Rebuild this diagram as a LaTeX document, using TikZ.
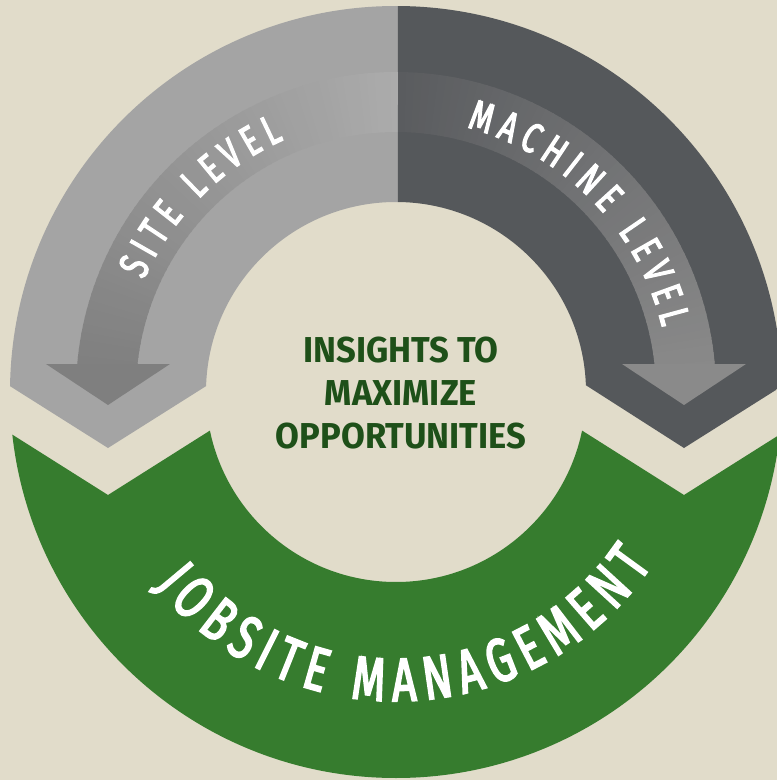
\documentclass[tikz,border=0pt]{standalone}
\usepackage{fontspec}
\setmainfont{Fira Sans}
\newfontfamily\arcfont[FakeStretch=0.7,FakeBold=3]{Fira Sans}
\newfontfamily\midfont[FakeStretch=0.96]{Fira Sans}
\usetikzlibrary{decorations.text}
\definecolor{bg}{HTML}{E1DCCA}
\definecolor{lgray}{HTML}{A4A4A4}
\definecolor{dgray}{HTML}{55585B}
\definecolor{jgreen}{HTML}{367C2E}
\definecolor{tgreen}{HTML}{1E5019}
\definecolor{lshaftA}{HTML}{ABABAB}
\definecolor{lshaftB}{HTML}{7F7F7F}
\definecolor{rshaftA}{HTML}{5A5C5F}
\definecolor{rshaftB}{HTML}{8A8A8A}
\tikzset{
  midtext/.style={anchor=base, text=tgreen, font=\midfont\bfseries\fontsize{36pt}{36pt}\selectfont, inner sep=0pt},
}
\begin{document}
\begin{tikzpicture}
\useasboundingbox (-396pt,-388pt) rectangle (381pt,392pt);
\fill[bg] (-396pt,-388pt) rectangle (381pt,392pt);
% light gray band (top left)
\begin{scope}
  \clip (2pt,400pt) -- (-410pt,400pt) -- (-410pt,21pt) -- (-288pt,-56pt) -- (2pt,127pt) -- cycle;
  \fill[lgray,even odd rule] (0,0) circle[radius=386pt] (0,0) circle[radius=190pt];
\end{scope}
% dark gray band (top right)
\begin{scope}
  \clip (2pt,400pt) -- (410pt,400pt) -- (410pt,21pt) -- (288pt,-56pt) -- (2pt,127pt) -- cycle;
  \fill[dgray,even odd rule] (0,0) circle[radius=386pt] (0,0) circle[radius=190pt];
\end{scope}
% green band (bottom)
\begin{scope}
  \clip (-410pt,-420pt) -- (-410pt,-26pt) -- (-288pt,-103pt) -- (0pt,79pt) -- (288pt,-103pt) -- (410pt,-26pt) -- (410pt,-420pt) -- cycle;
  \fill[jgreen,even odd rule] (0,0) circle[radius=386pt] (0,0) circle[radius=190pt];
\end{scope}
% left inner arrow shaft (gradient)
\foreach \i in {0,...,59}{
  \pgfmathsetmacro\aA{89.6+\i*86.8/60}
  \pgfmathsetmacro\aB{\aA+86.8/60+0.4}
  \pgfmathsetmacro\t{100*\i/59}
  \fill[lshaftB!\t!lshaftA] (\aA:260pt) arc[start angle=\aA,end angle=\aB,radius=260pt]
     -- (\aB:320pt) arc[start angle=\aB,end angle=\aA,radius=320pt] -- cycle;
}
\fill[lshaftB] (-350pt,28pt) -- (-288pt,-13pt) -- (-226pt,28pt) -- cycle;
% right inner arrow shaft (gradient)
\foreach \i in {0,...,59}{
  \pgfmathsetmacro\aA{89.6-\i*86.8/60}
  \pgfmathsetmacro\aB{\aA-86.8/60-0.4}
  \pgfmathsetmacro\t{100*\i/59}
  \fill[rshaftB!\t!rshaftA] (\aA:260pt) arc[start angle=\aA,end angle=\aB,radius=260pt]
     -- (\aB:320pt) arc[start angle=\aB,end angle=\aA,radius=320pt] -- cycle;
}
\fill[rshaftB] (350pt,28pt) -- (288pt,-13pt) -- (226pt,28pt) -- cycle;
% curved labels
\path[decorate, decoration={text along path, text align=fit to path,
  text={|\arcfont\fontsize{42pt}{42pt}\selectfont\color{white}|SITE LEVEL}}]
  (156:276pt) arc[start angle=156, end angle=114, radius=276pt];
\path[decorate, decoration={text along path, text align=fit to path,
  text={|\arcfont\fontsize{42pt}{42pt}\selectfont\color{white}|MACHINE LEVEL}}]
  (75:274pt) arc[start angle=75, end angle=13.7, radius=274pt];
\path[decorate, decoration={text along path, text align=fit to path,
  text={|\arcfont\fontsize{61pt}{61pt}\selectfont\color{white}|JOBSITE MANAGEMENT}}]
  (218.7:309pt) arc[start angle=218.7, end angle=326, radius=309pt];
% centre text
\node[midtext] (l1) at (5pt,30pt) {INSIGHTS TO};
\node[midtext] (l2) at (5pt,-13pt) {MAXIMIZE};
\node[midtext] (l3) at (5pt,-56pt) {OPPORTUNITIES};
\end{tikzpicture}
\end{document}
